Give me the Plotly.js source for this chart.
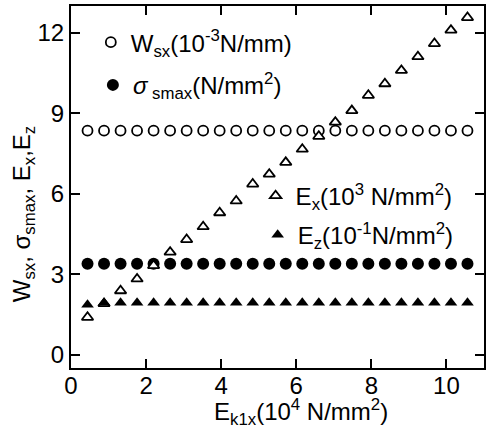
<!DOCTYPE html>
<html><head><meta charset="utf-8">
<script src="https://cdn.plot.ly/plotly-3.0.1.min.js"></script>
<style>html,body{margin:0;padding:0;background:#fff}#chart{width:486px;height:428px}</style>
</head><body><div id="chart"></div>
<script>
// E_k1x (10^4 N/mm^2)
const ek1x = [0.44,0.88,1.32,1.76,2.20,2.64,3.08,3.52,3.96,4.40,4.84,5.28,5.72,6.16,6.60,7.04,7.48,7.92,8.36,8.80,9.24,9.68,10.12,10.56];
// W_sx (10^-3 N/mm)
const wsx = [8.35,8.35,8.35,8.35,8.35,8.35,8.35,8.35,8.35,8.35,8.35,8.35,8.35,8.35,8.35,8.35,8.35,8.35,8.35,8.35,8.35,8.35,8.35,8.35];
// sigma_smax (N/mm^2)
const sigmaSmax = [3.39,3.39,3.39,3.39,3.39,3.39,3.39,3.39,3.39,3.39,3.39,3.39,3.39,3.39,3.39,3.39,3.39,3.39,3.39,3.39,3.39,3.39,3.39,3.39];
// E_x (10^3 N/mm^2)
const ex = [1.39,1.90,2.38,2.82,3.32,3.82,4.29,4.77,5.29,5.73,6.36,6.73,7.17,7.66,8.14,8.67,9.10,9.67,10.10,10.60,11.11,11.60,12.10,12.57];
// E_z (10^-1 N/mm^2)
const ez = [1.86,1.93,1.93,1.93,1.93,1.93,1.93,1.93,1.93,1.93,1.93,1.93,1.93,1.93,1.93,1.93,1.93,1.93,1.93,1.93,1.93,1.93,1.93,1.93];

const names = {
  wsx: 'W<sub>sx</sub>(10<sup>-3</sup>N/mm)',
  sig: '<i>σ</i><sub> smax</sub>(N/mm<sup>2</sup>)',
  ex: 'E<sub>x</sub>(10<sup>3</sup> N/mm<sup>2</sup>)',
  ez: 'E<sub>z</sub>(10<sup>-1</sup>N/mm<sup>2</sup>)'
};
const xTitle = 'E<sub>k1x</sub>(10<sup>4</sup> N/mm<sup>2</sup>)';
const yTitle = 'W<sub>sx</sub>, σ<sub>smax</sub>, E<sub>x</sub>,E<sub>z</sub>';
const xTicks = [0,2,4,6,8,10];
const yTicks = [0,3,6,9,12];

const traces = [
  {x: ek1x, y: wsx, name: names.wsx, legend: 'legend', mode: 'markers', type: 'scatter',
   marker: {symbol: 'circle-open', size: 10, color: '#000', line: {width: 1.8}}},
  {x: ek1x, y: sigmaSmax, name: names.sig, legend: 'legend2', mode: 'markers', type: 'scatter',
   marker: {symbol: 'circle', size: 12, color: '#000'}},
  {x: ek1x, y: ex, name: names.ex, legend: 'legend3', mode: 'markers', type: 'scatter',
   marker: {symbol: 'triangle-up', size: 10, color: '#fff', line: {color: '#000', width: 1.8}}},
  {x: ek1x, y: ez, name: names.ez, legend: 'legend4', mode: 'markers', type: 'scatter',
   marker: {symbol: 'triangle-up', size: 11, color: '#000'}}
];

const font = {family: 'Liberation Sans, Arial, sans-serif', size: 24, color: '#000'};
const legBase = {bgcolor: 'rgba(0,0,0,0)', borderwidth: 0, font: font, xanchor: 'left', yanchor: 'middle'};

const axisBase = {showgrid: false, zeroline: false, showline: true, linecolor: '#000', linewidth: 2,
  mirror: 'ticks', ticks: 'inside', ticklen: 9, tickwidth: 2, tickcolor: '#000', tickfont: font};

const layout = {
  width: 486, height: 428,
  margin: {l: 71, r: 2, t: 6, b: 60},
  paper_bgcolor: '#fff', plot_bgcolor: '#fff',
  font: font,
  showlegend: true,
  xaxis: Object.assign({}, axisBase, {range: [0, 11], tickvals: xTicks, ticktext: xTicks.map(String),
    ticklabelstandoff: -5}),
  yaxis: Object.assign({}, axisBase, {range: [-0.5, 13], tickvals: yTicks, ticktext: yTicks.map(String)}),
  legend: Object.assign({}, legBase, {x: 0.048, y: 0.899}),
  legend2: Object.assign({}, legBase, {x: 0.053, y: 0.781}),
  legend3: Object.assign({}, legBase, {x: 0.447, y: 0.475}),
  legend4: Object.assign({}, legBase, {x: 0.452, y: 0.367}),
  annotations: [
    {text: xTitle, xref: 'paper', yref: 'paper', x: 0.557, y: -0.122, xanchor: 'center', yanchor: 'middle',
     showarrow: false, font: font},
    {text: yTitle, xref: 'paper', yref: 'paper', x: -0.116, y: 0.425, xanchor: 'center', yanchor: 'middle',
     textangle: -90, showarrow: false, font: font}
  ]
};

Plotly.newPlot('chart', traces, layout, {displayModeBar: false, staticPlot: true});
</script></body></html>
